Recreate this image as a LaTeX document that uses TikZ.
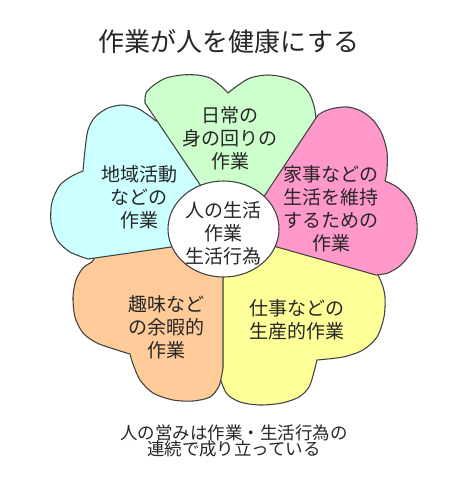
\documentclass[tikz,border=0pt]{standalone}
\usepackage{fontspec}
\newfontfamily\jpfont{Noto Sans CJK JP}
\definecolor{petalgreen}{HTML}{CCFFCC}
\definecolor{petalpink}{HTML}{FF99CC}
\definecolor{petalyellow}{HTML}{FFFF99}
\definecolor{petalorange}{HTML}{FFCC99}
\definecolor{petalcyan}{HTML}{CCFFFF}
\lineskiplimit=-6pt
\begin{document}
\begin{tikzpicture}[
    x=0.75pt, y=-0.75pt,
    petal/.style={draw=black!75, line width=0.8pt, line join=round},
    petaltext/.style={font=\jpfont\fontsize{14.25}{17.25}\selectfont, align=center, text=black!85, inner sep=0pt},
    headtext/.style={font=\jpfont\fontsize{19.5}{22}\selectfont, text=black!85, inner sep=0pt},
    foottext/.style={font=\jpfont\fontsize{13.1}{12.6}\selectfont, align=center, text=black!85, inner sep=0pt}
  ]
  \useasboundingbox (0,0) rectangle (466,485);
  \fill[white] (0,0) rectangle (466,485);

  % petals, back to front
  \filldraw[petal, fill=petalyellow] (240,238) -- (300,232) -- (370,262)
    -- plot[smooth] coordinates {(376,271) (382,284) (385,297) (384,317) (377,337) (363,350) (343,357) (317,360)}
    -- plot[smooth] coordinates {(317,360) (314,372) (309,387) (299,397) (282,403) (260,405) (240,402) (227,394) (221,381)}
    -- (205,340) -- (212,268) -- cycle;
  \filldraw[petal, fill=petalorange] (223,262) -- (223,368)
    -- plot[smooth] coordinates {(223,368) (219,386) (210,397) (193,401) (173,400) (153,393) (140,380) (133,364) (130,354)}
    -- plot[smooth] coordinates {(130,354) (117,350) (97,343) (83,333) (75,317) (73,297) (76,280) (83,268) (92,262)}
    -- (100,250) -- (180,232) -- cycle;
  \filldraw[petal, fill=petalcyan] (185,245) -- (88,259)
    -- plot[smooth] coordinates {(88,259) (70,252) (57,240) (51,222) (52,202) (60,185) (72,176) (83,171)}
    -- plot[smooth] coordinates {(83,171) (85,150) (88,130) (95,117) (108,108) (123,105) (137,108) (148,115) (156,121)}
    -- (175,118) -- (215,160) -- (215,200) -- cycle;
  \filldraw[petal, fill=petalgreen] (207,195) -- (145,103)
    -- plot[smooth] coordinates {(145,103) (146,93) (154,85) (166,78) (182,75) (197,75) (210,78) (221,86) (228,93)}
    -- plot[smooth] coordinates {(228,93) (237,86) (250,78) (267,75) (283,77) (299,83) (309,93) (314,106) (316,118)}
    -- (330,135) -- (300,190) -- (250,205) -- cycle;
  \filldraw[petal, fill=petalpink] (255,210) -- (318,115)
    -- plot[smooth] coordinates {(318,115) (325,111) (335,108) (348,107) (361,111) (373,120) (382,134) (387,152) (387,170) (385,181)}
    -- plot[smooth] coordinates {(385,181) (397,187) (409,199) (416,216) (417,234) (412,251) (401,265) (388,273) (376,275)}
    -- (268,244.5) -- cycle;
  \filldraw[petal, fill=white] (223.5,229) ellipse [x radius=55.5, y radius=48];

  \node[headtext] (title) at (229,42) {作業が人を健康にする};
  \node[petaltext] (selfcare) at (230,138) {日常の\\身の回りの\\作業};
  \node[petaltext] (household) at (331,209) {家事などの\\生活を維持\\するための\\作業};
  \node[petaltext] (productive) at (297,320) {仕事などの\\生産的作業};
  \node[petaltext] (leisure) at (166,327) {趣味など\\の余暇的\\作業};
  \node[petaltext] (community) at (139,197) {地域活動\\などの\\作業};
  \node[petaltext] (life) at (223.5,233) {人の生活\\作業\\生活行為};
  \node[foottext] (summary) at (234,441) {人の営みは作業・生活行為の\\連続で成り立っている};
\end{tikzpicture}
\end{document}
